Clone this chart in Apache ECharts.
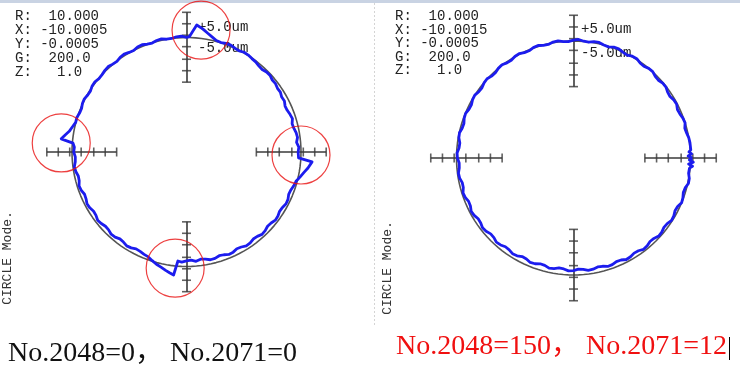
<!DOCTYPE html>
<html><head><meta charset="utf-8">
<script src="https://cdn.jsdelivr.net/npm/echarts@6/dist/echarts.min.js"></script>
<style>html,body{margin:0;padding:0;background:#fff}#c{width:740px;height:368px}</style>
</head><body><div id="c"></div>
<script>
// ---------------- data ----------------
const refRadius = 10;
const leftAngles = [0,2.5,5,7.5,10,12.5,15,17.5,20,22.5,25,27.5,30,32.5,35,37.5,40,42.5,45,47.5,50,52.5,55,57.5,60,62.5,65,67.5,70,72.5,75,77.5,80,82.5,85.4,88.6,90,92.5,95,97.5,100,102.5,105,107.5,110,112.5,115,117.5,120,122.5,125,127.5,130,132.5,135,137.5,140,142.5,145,147.5,150,152.5,155,157.5,160,162.5,165,167.5,170,172,174,175.5,177.5,180,182.5,185,187.5,190,192.5,195,197.5,200,202.5,205,207.5,210,212.5,215,217.5,220,222.5,225,227.5,230,232.5,235,237.5,240,242.5,245,247.5,250,252.5,255,257.5,260,262,264,265.5,267.5,270,272.5,275,277.5,280,282.5,285,287.5,290,292.5,295,297.5,300,302.5,305,307.5,310,312.5,315,317.5,320,322.5,325,327.5,330,332.5,335,337.5,340,342.5,345,347.5,350,352.5,355.5,357];
const leftDev = [-0.25,-0.18,-0.35,-0.22,-0.28,-0.4,-0.45,-0.3,-0.38,-0.48,-0.5,-0.36,-0.4,-0.28,-0.3,-0.2,-0.22,-0.1,-0.12,-0.22,-0.18,-0.08,-0.04,0.04,0.06,-0.04,0.0,0.1,0.1,0.02,0.08,0.3,0.55,0.85,1.13,0.07,0.02,0.12,0.1,0.0,0.0,0.12,0.08,-0.02,0.02,0.14,0.12,0.0,0.04,0.14,0.1,-0.02,0.02,0.12,0.08,0.0,-0.02,0.08,0.06,-0.06,-0.04,0.06,0.03,-0.08,-0.06,0.04,0.02,0.2,0.4,0.7,1.0,-0.05,-0.2,-0.15,-0.28,-0.25,-0.12,-0.18,-0.32,-0.3,-0.16,-0.22,-0.36,-0.32,-0.2,-0.25,-0.38,-0.35,-0.22,-0.28,-0.4,-0.38,-0.26,-0.3,-0.44,-0.4,-0.28,-0.33,-0.46,-0.42,-0.32,-0.25,-0.05,0.15,0.3,0.5,0.65,0.8,-0.45,-0.38,-0.5,-0.55,-0.42,-0.56,-0.5,-0.36,-0.38,-0.5,-0.45,-0.32,-0.35,-0.48,-0.42,-0.28,-0.3,-0.42,-0.38,-0.24,-0.28,-0.4,-0.35,-0.22,-0.25,-0.36,-0.32,-0.2,-0.22,-0.34,-0.3,-0.18,-0.1,0.15,0.4,0.7,1.0,-0.2];
const rightAngles = [0,1,2,3,4,5,7.5,10,12.5,15,17.5,20,22.5,25,27.5,30,32.5,35,37.5,40,42.5,45,47.5,50,52.5,55,57.5,60,62.5,65,67.5,70,72.5,75,77.5,80,82.5,85,87.5,90,92.5,95,97.5,100,102.5,105,107.5,110,112.5,115,117.5,120,122.5,125,127.5,130,132.5,135,137.5,140,142.5,145,147.5,150,152.5,155,157.5,160,162.5,165,167.5,170,172.5,175,177.5,180,182.5,185,187.5,190,192.5,195,197.5,200,202.5,205,207.5,210,212.5,215,217.5,220,222.5,225,227.5,230,232.5,235,237.5,240,242.5,245,247.5,250,252.5,255,257.5,260,262.5,265,267.5,270,272.5,275,277.5,280,282.5,285,287.5,290,292.5,295,297.5,300,302.5,305,307.5,310,312.5,315,317.5,320,322.5,325,327.5,330,332.5,335,337.5,340,342.5,345,347.5,350,352.5,355,356,357,358,359];
const rightDev = [0.15,-0.2,0.1,-0.12,0.05,-0.1,0.04,0.0,-0.1,-0.15,0.0,-0.05,-0.16,-0.2,-0.06,-0.1,-0.22,-0.18,-0.04,-0.05,-0.16,-0.12,0.02,0.0,-0.12,-0.08,0.06,0.05,-0.08,-0.02,0.1,0.08,-0.04,0.0,0.12,0.1,-0.02,0.02,0.14,0.08,-0.04,-0.02,0.1,0.06,-0.06,-0.04,0.08,0.04,-0.08,-0.06,0.06,0.02,-0.1,-0.08,0.04,0.0,-0.12,-0.1,0.02,-0.02,-0.14,-0.12,0.0,-0.04,-0.16,-0.14,-0.02,-0.06,-0.18,-0.15,-0.02,-0.05,-0.2,-0.18,-0.04,-0.08,-0.22,-0.2,-0.08,-0.12,-0.26,-0.25,-0.1,-0.15,-0.3,-0.28,-0.14,-0.2,-0.34,-0.32,-0.2,-0.25,-0.4,-0.38,-0.24,-0.3,-0.44,-0.42,-0.3,-0.35,-0.5,-0.48,-0.34,-0.38,-0.52,-0.5,-0.36,-0.4,-0.52,-0.48,-0.34,-0.38,-0.5,-0.45,-0.32,-0.35,-0.46,-0.42,-0.28,-0.3,-0.42,-0.38,-0.22,-0.25,-0.36,-0.32,-0.16,-0.2,-0.32,-0.28,-0.12,-0.15,-0.26,-0.22,-0.06,-0.1,-0.22,-0.18,0.0,-0.05,-0.16,-0.12,0.06,0.05,-0.08,-0.05,0.2,-0.15,0.25,-0.1];
const barAngles = [0, 90, 180, 270];
const barTickRadii = [6.1, 7.1, 8.1, 9.2, 10.2, 11.2, 12.2];
const infoLabels = ['R:', 'X:', 'Y:', 'G:', 'Z:'];
const leftInfoValues = ['  10.000', ' -10.0005', ' -0.0005', '  200.0', '   1.0'];
const rightInfoValues = ['  10.000', ' -10.0015', ' -0.0005', '  200.0', '   1.0'];
const scaleLabels = ['+5.0um', '-5.0um'];
const modeLabel = 'CIRCLE Mode.';
const leftCaption = 'No.2048=0， No.2071=0';
const rightCaption = 'No.2048=150， No.2071=12';
const markCenters = [[1.27, 10.65], [-10.94, 0.79], [10.0, -0.26], [-0.99, -10.14]];

// ---------------- layout ----------------
const panels = [
  {cx: 186.5, cy: 152, s: 11.45, angles: leftAngles, dev: leftDev},
  {cx: 573.5, cy: 158, s: 11.7, angles: rightAngles, dev: rightDev}
];
const XR = [-15, 14], YR = [-13, 13];
function polarXY(aDeg, r) { const a = aDeg * Math.PI / 180; return [r * Math.cos(a), r * Math.sin(a)]; }

const grids = [], xAxes = [], yAxes = [], series = [];
panels.forEach((p, i) => {
  grids.push({left: p.cx + XR[0] * p.s, top: p.cy - YR[1] * p.s, width: (XR[1] - XR[0]) * p.s, height: (YR[1] - YR[0]) * p.s});
  xAxes.push({type: 'value', gridIndex: i, min: XR[0], max: XR[1], show: false});
  yAxes.push({type: 'value', gridIndex: i, min: YR[0], max: YR[1], show: false});
  const ax = {xAxisIndex: i, yAxisIndex: i};
  const refPts = p.angles.map(a => polarXY(a, refRadius)); refPts.push(refPts[0]);
  series.push(Object.assign({type: 'line', data: refPts, symbol: 'none', silent: true, z: 1,
    lineStyle: {color: '#555', width: 1.6}}, ax));
  series.push(Object.assign({type: 'lines', coordinateSystem: 'cartesian2d', z: 2, silent: true,
    lineStyle: {color: '#3a3a3a', width: 1.6, opacity: 1},
    data: barAngles.map(a => ({coords: [polarXY(a, barTickRadii[0]), polarXY(a, barTickRadii[barTickRadii.length - 1])]}))}, ax));
  const hTicks = [], vTicks = [];
  barAngles.forEach(a => barTickRadii.forEach(r => (a % 180 === 0 ? hTicks : vTicks).push(polarXY(a, r))));
  series.push(Object.assign({type: 'scatter', data: hTicks, symbol: 'rect', symbolSize: [1.6, 9], z: 2, silent: true,
    itemStyle: {color: '#3a3a3a'}}, ax));
  series.push(Object.assign({type: 'scatter', data: vTicks, symbol: 'rect', symbolSize: [9, 1.6], z: 2, silent: true,
    itemStyle: {color: '#3a3a3a'}}, ax));
  const prof = p.angles.map((a, k) => polarXY(a, refRadius + p.dev[k])); prof.push(prof[0]);
  series.push(Object.assign({type: 'line', data: prof, symbol: 'none', z: 3, silent: true,
    lineStyle: {color: '#1c1cee', width: 2.8, join: 'round'}}, ax));
});
series.push({type: 'scatter', xAxisIndex: 0, yAxisIndex: 0, data: markCenters, symbol: 'circle', symbolSize: 58, z: 4, silent: true,
  itemStyle: {color: 'rgba(0,0,0,0)', borderColor: '#e81010', borderWidth: 1.2}});

const monoFont = '14px "Liberation Mono", "DejaVu Sans Mono", monospace';
const capFont = '28px "Liberation Serif", "Noto Sans CJK SC", serif';
const graphics = [
  {type: 'rect', shape: {x: 0, y: 0, width: 740, height: 3}, style: {fill: '#c9d3e3'}},
  {type: 'line', shape: {x1: 374.5, y1: 3, x2: 374.5, y2: 325}, style: {stroke: '#d4d4d4', lineWidth: 1, lineDash: [2, 2]}},
  {type: 'text', x: 15, y: 9, style: {text: infoLabels.map((l, k) => l + leftInfoValues[k]).join('\n'), font: monoFont, lineHeight: 14, fill: '#222'}},
  {type: 'text', x: 395, y: 10, style: {text: infoLabels.map((l, k) => l + rightInfoValues[k]).join('\n'), font: monoFont, lineHeight: 13.5, fill: '#222'}},
  {type: 'text', x: 198, y: 27, style: {text: scaleLabels[0], font: monoFont, fill: '#222', verticalAlign: 'middle'}},
  {type: 'text', x: 198, y: 48, style: {text: scaleLabels[1], font: monoFont, fill: '#222', verticalAlign: 'middle'}},
  {type: 'text', x: 581, y: 29, style: {text: scaleLabels[0], font: monoFont, fill: '#222', verticalAlign: 'middle'}},
  {type: 'text', x: 581, y: 53, style: {text: scaleLabels[1], font: monoFont, fill: '#222', verticalAlign: 'middle'}},
  {type: 'text', x: 8, y: 258, rotation: Math.PI / 2, style: {text: modeLabel, font: '13px "Liberation Mono", monospace', fill: '#333', align: 'center', verticalAlign: 'middle'}},
  {type: 'text', x: 388, y: 268, rotation: Math.PI / 2, style: {text: modeLabel, font: '13px "Liberation Mono", monospace', fill: '#333', align: 'center', verticalAlign: 'middle'}},
  {type: 'text', x: 8, y: 354, style: {text: leftCaption, font: capFont, fill: '#111', verticalAlign: 'middle'}},
  {type: 'text', x: 396, y: 347, style: {text: rightCaption, font: capFont, fill: '#f01010', verticalAlign: 'middle'}},
  {type: 'line', shape: {x1: 729.5, y1: 337, x2: 729.5, y2: 360}, style: {stroke: '#000', lineWidth: 1}}
];

const chart = echarts.init(document.getElementById('c'), null, {renderer: 'canvas'});
chart.setOption({animation: false, backgroundColor: '#fff', grid: grids, xAxis: xAxes, yAxis: yAxes, series: series, graphic: graphics});
</script></body></html>
